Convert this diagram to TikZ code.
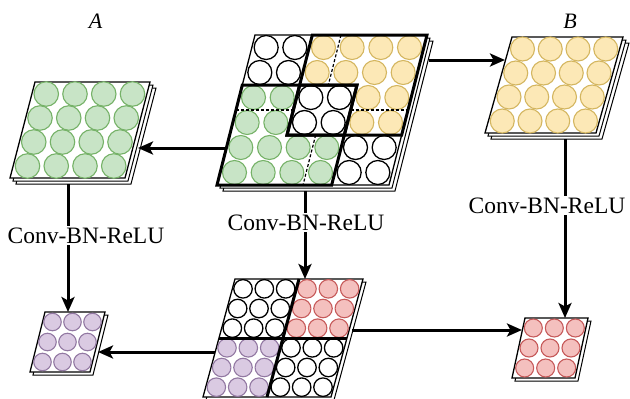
\documentclass[tikz,border=0pt]{standalone}
\usepackage{fontspec}
\setmainfont{Liberation Serif}
\usetikzlibrary{arrows.meta}
\definecolor{gfill}{RGB}{200,228,198}
\definecolor{gline}{RGB}{118,178,104}
\definecolor{yfill}{RGB}{252,232,182}
\definecolor{yline}{RGB}{212,182,96}
\definecolor{pfill}{RGB}{218,202,226}
\definecolor{pline}{RGB}{146,120,162}
\definecolor{rfill}{RGB}{244,192,190}
\definecolor{rline}{RGB}{198,90,90}
\tikzset{
  sheet/.style={draw=black, fill=white, line width=1pt},
  front/.style={draw=black, fill=white, line width=1.3pt},
  thk/.style={draw=black, line width=3pt},
  dashline/.style={draw=black, line width=1.2pt, dash pattern=on 3pt off 2pt},
  wc/.style={circle, draw=black, line width=1.3pt, fill=white, inner sep=0pt},
  gc/.style={circle, draw=gline, fill=gfill, line width=1.1pt, inner sep=0pt},
  yc/.style={circle, draw=yline, fill=yfill, line width=1.1pt, inner sep=0pt},
  pc/.style={circle, draw=pline, fill=pfill, line width=1.1pt, inner sep=0pt},
  rc/.style={circle, draw=rline, fill=rfill, line width=1.1pt, inner sep=0pt},
  arr/.style={line width=3pt, -{Stealth[length=15pt,width=13pt,inset=3.5pt]}},
  lbl/.style={font=\fontsize{23.5}{28}\selectfont, fill=white, inner sep=1.5pt, anchor=base},
  ttl/.style={font=\fontsize{22}{26}\selectfont\itshape, anchor=base},
}
\begin{document}
\begin{tikzpicture}[x=1pt,y=-1pt]
\useasboundingbox (0,0) rectangle (630,399);

% ---------- centre top ----------
\begin{scope}[shift={(255,35)}, x={(28.667pt,0pt)}, y={(-6.333pt,-25pt)}, every node/.append style={minimum size=24pt}]
  \foreach \k in {2,1} \draw[sheet, xshift={\k*3pt}, yshift={-\k*3pt}] (0,0) -- (6,0) -- (6,6) -- (0,6) -- cycle;
  \draw[front] (0,0) -- (6,0) -- (6,6) -- (0,6) -- cycle;
  \foreach \i/\j in {0/0,1/0,0/1,1/1,2/2,3/2,2/3,3/3,4/4,5/4,4/5,5/5} \node[wc] at (\i+.5,\j+.5) {};
  \foreach \i/\j in {2/0,3/0,4/0,5/0,2/1,3/1,4/1,5/1,4/2,5/2,4/3,5/3} \node[yc] at (\i+.5,\j+.5) {};
  \foreach \i/\j in {0/2,1/2,0/3,1/3,0/4,1/4,2/4,3/4,0/5,1/5,2/5,3/5} \node[gc] at (\i+.5,\j+.5) {};
  \draw[dashline] (3,0) -- (3,2);
  \draw[dashline] (4,3) -- (6,3);
  \draw[dashline] (0,3) -- (2,3);
  \draw[dashline] (3,4) -- (3,6);
  \draw[thk] (2,0) -- (6,0) -- (6,4) -- (2,4) -- cycle;
  \draw[thk] (0,2) -- (4,2) -- (4,6) -- (0,6) -- cycle;
  \draw[thk] (2,2) -- (4,2) -- (4,4) -- (2,4) -- cycle;
\end{scope}

% ---------- A (green) ----------
\begin{scope}[shift={(35,82)}, x={(28.75pt,0pt)}, y={(-6.25pt,-24pt)}, every node/.append style={minimum size=24.5pt}]
  \foreach \k in {2,1} \draw[sheet, xshift={\k*3pt}, yshift={-\k*3pt}] (0,0) -- (4,0) -- (4,4) -- (0,4) -- cycle;
  \draw[front] (0,0) -- (4,0) -- (4,4) -- (0,4) -- cycle;
  \foreach \i in {0,...,3} \foreach \j in {0,...,3} \node[gc] at (\i+.5,\j+.5) {};
\end{scope}

% ---------- B (yellow) ----------
\begin{scope}[shift={(512,37)}, x={(27.75pt,0pt)}, y={(-6.75pt,-24pt)}, every node/.append style={minimum size=24pt}]
  \foreach \k in {2,1} \draw[sheet, xshift={\k*3pt}, yshift={-\k*3pt}] (0,0) -- (4,0) -- (4,4) -- (0,4) -- cycle;
  \draw[front] (0,0) -- (4,0) -- (4,4) -- (0,4) -- cycle;
  \foreach \i in {0,...,3} \foreach \j in {0,...,3} \node[yc] at (\i+.5,\j+.5) {};
\end{scope}

% ---------- bottom centre ----------
\begin{scope}[shift={(235,279)}, x={(21.333pt,0pt)}, y={(-5.333pt,-19.667pt)}, every node/.append style={minimum size=18.5pt}]
  \draw[sheet, xshift=3pt, yshift=-3pt] (0,0) -- (6,0) -- (6,6) -- (0,6) -- cycle;
  \draw[front] (0,0) -- (6,0) -- (6,6) -- (0,6) -- cycle;
  \foreach \i in {0,1,2} \foreach \j in {0,1,2} \node[wc] at (\i+.5,\j+.5) {};
  \foreach \i in {3,4,5} \foreach \j in {0,1,2} \node[rc] at (\i+.5,\j+.5) {};
  \foreach \i in {0,1,2} \foreach \j in {3,4,5} \node[pc] at (\i+.5,\j+.5) {};
  \foreach \i in {3,4,5} \foreach \j in {3,4,5} \node[wc] at (\i+.5,\j+.5) {};
  \draw[thk] (3,0) -- (3,6);
  \draw[thk] (0,3) -- (6,3);
\end{scope}

% ---------- purple ----------
\begin{scope}[shift={(45,312)}, x={(20pt,0pt)}, y={(-5pt,-20pt)}, every node/.append style={minimum size=17.5pt}]
  \draw[sheet, xshift=3pt, yshift=-3pt] (0,0) -- (3,0) -- (3,3) -- (0,3) -- cycle;
  \draw[front] (0,0) -- (3,0) -- (3,3) -- (0,3) -- cycle;
  \foreach \i in {0,1,2} \foreach \j in {0,1,2} \node[pc] at (\i+.5,\j+.5) {};
\end{scope}

% ---------- pink ----------
\begin{scope}[shift={(525,318)}, x={(21pt,0pt)}, y={(-4.333pt,-20pt)}, every node/.append style={minimum size=18pt}]
  \draw[sheet, xshift=3pt, yshift=-3pt] (0,0) -- (3,0) -- (3,3) -- (0,3) -- cycle;
  \draw[front] (0,0) -- (3,0) -- (3,3) -- (0,3) -- cycle;
  \foreach \i in {0,1,2} \foreach \j in {0,1,2} \node[rc] at (\i+.5,\j+.5) {};
\end{scope}

% ---------- connector end points ----------
\coordinate (ctL) at (226,148);
\coordinate (aR)  at (138,148);
\coordinate (ctR) at (429,60);
\coordinate (bL)  at (505,60);
\coordinate (ctB) at (305,191);
\coordinate (bcT) at (305,279);
\coordinate (aB)  at (68,184);
\coordinate (puT) at (68,312);
\coordinate (bB)  at (565,139);
\coordinate (piT) at (565,318);
\coordinate (bcL) at (215,352);
\coordinate (puR) at (98,352);
\coordinate (bcR) at (352,330);
\coordinate (piL) at (522,330);

\draw[arr] (ctL) -- (aR);
\draw[arr] (ctR) -- (bL);
\draw[arr] (ctB) -- (bcT);
\draw[arr] (aB) -- (puT);
\draw[arr] (bB) -- (piT);
\draw[arr] (bcL) -- (puR);
\draw[arr] (bcR) -- (piL);

% ---------- labels ----------
\node[lbl] (l1) at (86,243) {Conv-BN-ReLU};
\node[lbl] (l2) at (306,230) {Conv-BN-ReLU};
\node[lbl] (l3) at (547,213) {Conv-BN-ReLU};
\node[ttl] (tA) at (95.5,28) {A};
\node[ttl] (tB) at (570,28) {B};
\end{tikzpicture}
\end{document}
